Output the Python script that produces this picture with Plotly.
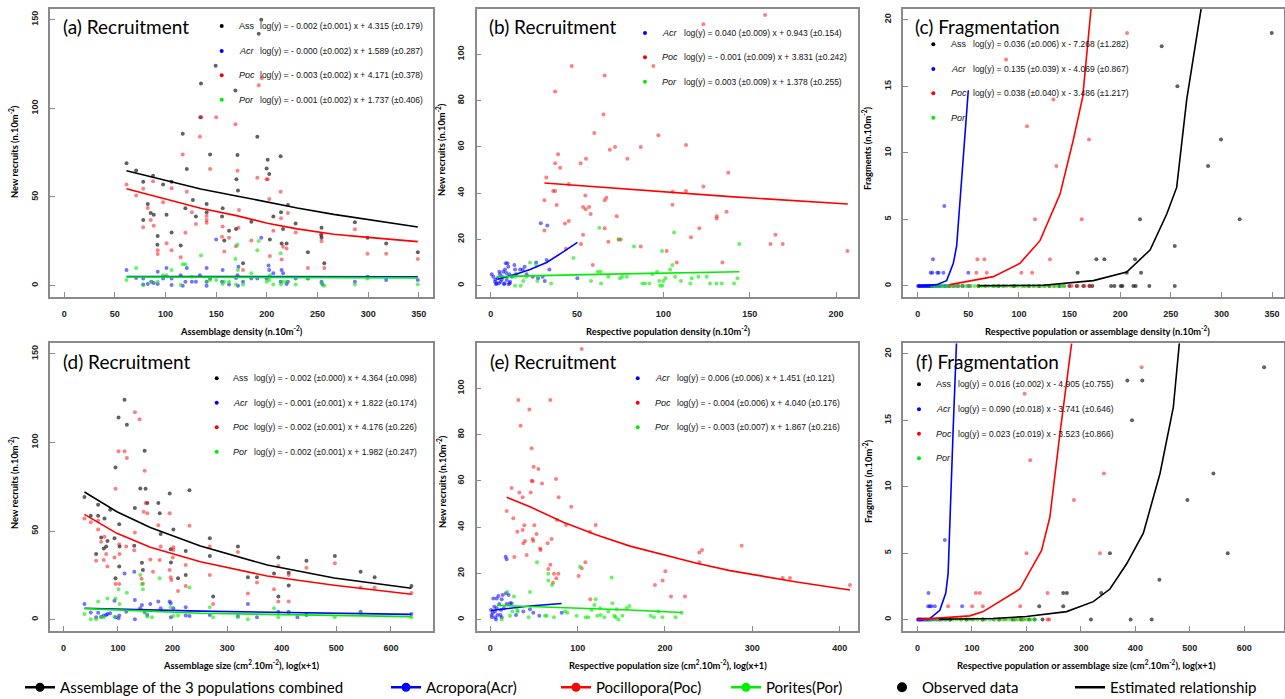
import plotly.graph_objects as go

W, H = 1285, 704   # a few px taller than the window so the bottom legend sits at the right height

# ======================= DATA =======================
# Panel (a): recruitment vs assemblage density
a_ass = [(61.5,69),(71,65),(78,58.6),(78,37),(82.5,46),(85.4,41),(87.7,62),(88.4,40),(92.3,28),(92,23),
         (97.6,57),(101,40),(106,58.6),(106,30),(115,22.6),(117,85.7),(119.6,43.6),(121,65.8),(127,48.3),
         (130,39),(135,114),(134.4,95),(140.6,46),(140.6,41.4),(144,74),(149.5,124),(156.4,43.6),(155.8,39),
         (158,25.4),(162.7,31),(169,110),(171,73.7),(170,60),(171.5,53.6),(169.6,32),(176.5,12.6),(184.7,36),
         (190.6,84),(192,142),(194.5,150),(199.8,66),(200.8,71),(202.4,63),(203,26),(206.4,39),(213.6,73),
         (214,41.4),(216,32),(214.6,23.7),(219.5,23.7),(220.8,45.5),(228.4,35),(240.5,18.8),(254,32.7),
         (253.7,28.6),(254,27),(256.7,12.6),(286.9,35.7),(299.4,27),(317.8,23.7),(349,18.8)]
a_poc = [(61.5,57),(71,50.8),(78,54.7),(78,33),(82.5,43.8),(85.4,37),(87.7,58.8),(88.4,33.8),(92.3,20),
         (92.3,17.9),(97.6,47),(101,23.9),(106,54.9),(106,19.9),(115,16),(117,73.9),(119.6,29.9),(121,53),
         (126,41.4),(130,34.8),(134,84),(135.4,95),(140.6,39.3),(140.6,37),(140.6,35.5),(144,65.8),(150,95),
         (156.4,33.3),(155.8,27.6),(158,19.2),(162.7,27),(169,91),(171,64.8),(172.5,42.7),(169.6,22.2),
         (172,32.7),(176.5,8.8),(184.7,25.4),(190.6,60.9),(192,113),(195,117),(199.8,60),(200.8,60),
         (202.4,48.9),(203,16.7),(206.4,31),(213.6,53),(214,38),(216,22),(214.6,14.8),(219.5,20.9),
         (220.8,41),(228.4,30),(240.5,10),(254,25),(253.7,29),(256.7,10),(286.9,31.8),(299.4,18),
         (317.8,18),(349,15)]
a_acr = [(61.5,8.8),(71,4.3),(78,4),(78,0.7),(82.5,1),(86,2.2),(88.4,1.5),(92.3,7.9),(92.3,1),(97.6,4),
         (101,10),(106,4),(106,0.4),(115,5.8),(117,0),(121,10),(119.6,2.2),(126,2.2),(130,2.2),(134,5.8),
         (140.6,10),(140.6,0),(140.6,2.2),(144,4),(150,26),(156.4,8.8),(155.8,2.2),(162.7,0.7),(169.6,4.3),
         (171,5.8),(172,10.7),(171.5,0),(176.5,2.2),(184.7,4),(190.6,4),(194.5,27),(199.8,4),(201.7,11.3),
         (202.4,8.8),(206.4,7),(213.6,2.2),(214.6,8.8),(216,7),(219.5,1),(220.8,2.2),(228.4,4),(240.5,4),
         (254,2.2),(255,0.7),(286.9,2.2),(299.4,5),(317.8,3.2),(349,3.2)]
a_por = [(61.5,3.2),(71,10),(78,0.4),(86,2.2),(92.3,2.2),(97.6,5.8),(101,5.8),(106,8.8),(115,0.4),(117,12),
         (119.6,12),(126,5),(135,17),(140.6,2.2),(144,3.2),(150,3.2),(156.4,1),(158,2.2),(162.7,2.2),(169,15),
         (171,23),(171.5,8.8),(169.6,0.7),(176.5,0.7),(184.7,7),(190.6,20),(192,25.2),(199.8,2.2),(202.4,3.2),
         (203,5.8),(206.4,0.7),(213.6,18.2),(214,0.7),(216,2.2),(219.5,2.2),(228.4,0.7),(240.5,4),(254,1.3),
         (256.7,0),(286.9,0.7),(299.4,4),(349,0.7)]
a_line_x = [61.5, 100, 134.7, 170, 200.5, 230, 266, 300, 349]
a_ass_line = [64.8, 59.6, 54.5, 50.6, 47.0, 43.8, 40.2, 37.2, 33.1]
a_poc_line = [54.7, 49.0, 43.6, 39.5, 35.2, 32.0, 29.0, 27.2, 24.8]
a_flat_x = [61.5, 349]
a_acr_line = [5.2, 5.0]
a_por_line = [4.9, 4.4]

# Panel (b): recruitment vs respective population density
b_poc = [(158.9,117),(123.2,113),(46.9,95),(94.2,95),(66,90.9),(37.3,83.9),(65.3,74),(60,66),(97.1,65),
         (113.1,60.8),(39,56.8),(72,59.9),(69,58.8),(86.9,59.9),(37.3,52.9),(40.2,51),(52.1,52.9),(55.2,54.9),
         (79.2,54.9),(32.2,46.8),(45.2,44),(137.6,48.8),(31.1,36.9),(36.2,40.9),(37.3,40.9),(38.2,34.9),
         (54.8,39),(53.5,34),(55,33),(57,34),(57.9,31),(67,38),(66,36.9),(105.2,35),(105.4,40.6),(113.1,40.9),
         (123.2,42.9),(130.9,30),(130.9,29),(136.6,32),(73,30),(31.1,23.9),(43,26.9),(45.2,28),(66,24.8),
         (68.1,19),(75.3,20),(74.1,20),(120.8,24.8),(116,20.9),(101.9,15),(86.9,16.9),(52.3,18),(53.5,22),
         (43.6,16),(59.1,8.9),(162,18),(164.9,22),(169.1,18),(206.6,15),(107.7,10),(134.2,10)]
b_acr = [(29,27),(32.8,26),(0.6,4.9),(1.5,3.9),(2.5,1.7),(3.1,0.6),(4,3.2),(4.8,1),(5.4,4.9),(5.8,1.7),
         (6.6,3.9),(7.3,6),(7.7,0.6),(8.3,7),(8.7,9.7),(9.3,2.4),(9.7,9.7),(10.2,8.2),(10.4,0.6),(11.2,1.7),
         (10.8,4.9),(12.2,3.9),(13.7,8.9),(14.1,7),(14.7,4.9),(17,7),(18.5,7),(19.7,8.2),(20.8,4.9),(24.3,3.9),
         (26.3,10),(27.4,3.2),(30.1,3.9),(32.4,11.1),(34,7),(31.3,2),(50.2,3.2),(2.7,2.7),(6.4,2.7),(3.5,1),
         (8,1),(11,1),(9,5.5),(5,6)]
b_por = [(22.8,10),(26.3,8.9),(47.9,12),(62.9,25),(74.3,20),(83,16.9),(99.2,15),(106.2,23),(105.2,8.9),
         (62,6),(63.7,6),(144,18),(96.3,6),(14.1,0),(17.4,0),(14.1,3.9),(27,2),(35,0.9),(58.1,2),(63.9,0.9),
         (68.1,3.9),(74.9,3.2),(76.3,3.9),(78.8,3.9),(87.8,0.9),(89.4,0.9),(91.9,0.9),(93.6,4.9),(97.7,2),
         (98.1,0),(99.4,0),(100,2),(101.2,3.2),(103.9,7),(106.8,3.9),(110.2,2),(115.6,0.9),(116.4,3.2),
         (120.3,3.9),(125.1,3.9),(127,0.9),(130.7,0.9),(133.8,0.9),(140.9,0.9),(142.9,3.2),(9.7,3.9),
         (18.9,2),(20.8,3.9)]
b_poc_line_x = [31.1, 80.7, 138.6, 206.8]
b_poc_line = [44.4, 41.8, 38.5, 35.3]
b_acr_line_x = [4, 15, 22.8, 32.4, 42, 50.2]
b_acr_line = [2.8, 5.0, 7.0, 10.0, 14.6, 18.7]
b_por_line_x = [3.5, 61.4, 144]
b_por_line = [3.9, 4.9, 6.0]

# Panel (c): fragmentation vs density
c_ass = [(349.7,19),(241,18),(256.5,15),(299.6,11),(286.8,9),(318,5),(219.6,5),(253.9,3),(176.5,2),
         (184.4,2),(214.7,2),(158,1),(206.5,1),(220.6,1),(149.8,0),(157,0),(163.6,0),(169.6,0),(172.5,0),
         (191,0),(194.3,0),(200.5,0),(202.2,0),(213,0),(215.3,0),(228.8,0),(253.9,0),(60,0),(80,0),(95,0),
         (110,0),(120,0),(130,0),(140,0)]
c_poc = [(206.8,19),(87.3,17),(134,14),(108,12),(169.2,11),(137,9),(115.9,5),(162,5),(59,2),(65.9,2),
         (130.7,2),(58,1),(68.2,1),(102.4,1),(113,1),(31,0),(38,0),(45,0),(52,0),(60,0),(67,0),(75,0),(85,0),
         (95,0),(105,0),(115,0),(125,0),(135,0),(145,0),(152,0),(158,0),(165,0),(170,0)]
c_acr = [(26.3,6),(15.1,2),(12.8,1),(14.5,1),(19.4,1),(20.7,1),(25.4,1),(50,1),(0.5,0),(1,0),(2,0),(3,0),
         (4,0),(5,0),(6,0),(7,0),(8,0),(9,0),(10,0),(11,0),(12,0),(13,0),(14,0),(15,0),(17,0),(19,0),(21,0),
         (23,0),(26,0),(28,0),(31,0),(35,0),(40,0),(44,0),(50,0)]
c_por = [(14,0),(17,0),(20,0),(23,0),(26,0),(29,0),(33,0),(36,0),(40,0),(44,0),(48,0),(52,0),(56,0),(60,0),
         (63,0),(66,0),(70,0),(74,0),(77,0),(80,0),(84,0),(88,0),(92,0),(96,0),(99,0),(103,0),(107,0),(110,0),
         (114,0),(118,0),(122,0),(126,0),(130,0),(134,0),(138,0),(142,0),(144,0)]
c_acr_line_x = [0, 18.8, 28.6, 35.2, 38.5, 41.8, 45.1, 50]
c_acr_line = [0, 0.1, 0.4, 1.7, 3.0, 6.4, 9.7, 14.7]
c_poc_line_x = [31.9, 74.7, 101, 120.8, 140.6, 153.8, 163, 171.2]
c_poc_line = [0.1, 0.7, 1.7, 3.4, 6.9, 11.0, 14.2, 20.8]
c_ass_line_x = [60, 124, 173.5, 206.5, 229.5, 246, 255.8, 265.7, 279.9]
c_ass_line = [0.01, 0.05, 0.4, 1.05, 2.7, 5.4, 7.4, 14.0, 20.8]

# Panel (d): recruitment vs assemblage size
d_ass = [(38.6,69.2),(50.2,58.6),(60,37),(63.7,64.8),(63.7,58.6),(69.2,46.4),(74,40.2),(75.3,57),(78.4,41.2),
         (80.8,44.4),(85.7,62),(93.7,45.9),(95.5,85.9),(95.5,23.3),(101,114),(102.3,53.8),(102.3,30),
         (102.9,41.2),(112,124),(116.3,110),(129.8,41.7),(131,63),(140.8,74),(143.9,32.1),(145.7,28),
         (148.8,95.3),(150.6,73.9),(153.7,65.8),(173.9,65.8),(176.4,60),(178.2,48.3),(194.7,71.2),(196.6,39.7),
         (201.5,50.8),(197,32.3),(210,23.3),(224.1,38.7),(224.1,25.2),(230.9,73),(268.2,45.9),(268.2,35.9),
         (274.3,13),(319.7,41.2),(338,23.9),(354.6,23.9),(385.8,26.1),(393.8,35),(393.8,13),(412.7,19.2),
         (412.7,26.5),(445.2,33.3),(497.2,35.9),(544.4,27),(570.1,23.9),(637.5,19)]
d_poc = [(38.6,57),(50.2,54.9),(60,33.3),(63.7,55.8),(63.7,50.8),(69.2,44),(74,33.6),(75.3,46.8),(78.4,37),
         (80.8,30),(93.7,35),(95.5,73.9),(95.5,20.1),(101,95),(102.3,42.5),(102.3,20.1),(102.9,37),(112,95),
         (116.3,91.2),(115.1,41.2),(129.8,39.1),(131,49.2),(131,117),(139.6,113),(143.3,23.1),(145.7,20.3),
         (148.8,84),(150.6,65.8),(153.7,60),(147,60.9),(159.2,34),(164.1,27),(173.9,53.2),(176.4,33.6),
         (178.2,41.2),(194.7,60),(194.7,28),(196.6,23.9),(197.8,22.4),(200.3,35),(201.5,40.8),(201.5,39.3),
         (210,16.2),(224.1,19),(224.1,30.8),(230.9,53),(268.2,41.2),(268.2,25.2),(274.3,8.8),(319.7,38.2),
         (338,14.8),(354.6,21),(385.8,17.1),(393.8,30.3),(393.8,10.2),(412.7,10.2),(412.7,25.2),(445.2,29.3),
         (497.2,31.8),(544.4,18.2),(570.1,18.2),(637.5,15)]
d_acr = [(38.6,8.8),(50.2,4.1),(60,1.3),(63.7,3.9),(69.2,1.7),(74,2.3),(78.4,2.6),(80.8,3.2),(85.7,3.6),
         (93.7,10.7),(95.5,1.3),(101,0.8),(102.3,2.3),(112,26.1),(115.1,4.5),(129.8,27),(131,11.1),(131,0.2),
         (140.8,6.4),(143.9,8.3),(148.8,4.5),(153.7,2.6),(159.2,8.8),(173.9,10.2),(178.2,6.4),(194.7,10.2),
         (196.6,9.2),(197,1.3),(201.5,6.4),(224.1,7),(224.1,2.3),(230.9,2.1),(268.2,2.6),(319.7,2.1),(338,8.8),
         (354.6,1.3),(393.8,4.5),(412.7,4.5),(428.7,1.3),(445.2,2.6),(544.4,4.5),(637.5,3.2)]
d_por = [(38.6,3.2),(50.2,0.2),(63.7,10.2),(69.2,1.3),(80.8,12),(95.5,12),(101,17.1),(102.9,8.8),(116.3,15.2),
         (140.8,25.2),(143.9,20.1),(145.7,17.1),(148.8,3.9),(153.7,1.7),(162.3,1.3),(176.4,23.3),(196.6,7),
         (201.5,2.1),(210,2.3),(230.9,18.2),(268.2,7),(274.3,1.3),(319.7,1.3),(338,0.2),(385.8,6.4),
         (393.8,1.3),(412.7,3.9),(445.2,2.6),(497.2,1.3),(544.4,3.9),(637.5,1.3),(60,0.2),(74,1.3),(93.7,1.7)]
d_line_x = [38.6, 98, 159.2, 251, 373.5, 496, 637.5]
d_ass_line = [72.0, 60.9, 52.0, 41.5, 30.8, 23.5, 17.7]
d_poc_line = [59.4, 48.7, 40.8, 32.7, 24.6, 19.4, 14.3]
d_flat_x = [38.6, 251, 637.5]
d_acr_line = [6.4, 4.8, 3.0]
d_por_line = [6.2, 3.6, 1.7]

# Panel (e): recruitment vs respective population size
e_poc = [(104.6,117),(32.1,95),(68.7,95),(44.7,90.9),(34.7,83.9),(47.3,74.1),(49.6,66.1),(55,65.1),
         (47.3,60.1),(48.5,59.8),(59.2,58.9),(75.2,60.8),(24.4,56.9),(33.2,55),(37,52.9),(46.2,55),(78.2,52.9),
         (92.7,48.8),(18.7,47),(26.3,43.8),(38.9,40.8),(50.4,40.8),(76.3,43.1),(86.6,40.9),(120.6,40.9),
         (114.1,38),(37,38.8),(39.7,34),(37.8,33),(48.5,34.9),(49.2,34),(53,37),(56.9,30.8),(57.6,30.1),
         (65.6,33),(70.2,34.9),(30.9,38),(27.5,27.1),(41.6,28),(66.4,21.9),(68.7,23.8),(72.9,19.9),(77.9,19.9),
         (71.8,16),(75.6,17.9),(101.1,18.9),(104.6,22.2),(108.8,24.8),(114.5,8.8),(188.5,15),(197.3,16.9),
         (200.4,20.9),(206.9,10),(222.9,10),(239.3,29),(242.4,30.1),(239.3,24.8),(287.8,32),(334.7,18),
         (343.1,18),(411.8,15)]
e_acr = [(17.6,27.2),(18.7,26.1),(0.8,4.2),(1.9,1),(2.7,3),(3.4,9.2),(4.6,5.6),(5.7,1),(7.3,4.9),(7.3,9.2),
         (8.4,2),(9.2,10.2),(10.3,6.8),(11.5,2),(13,8.8),(14.1,10.7),(15.6,4.9),(17.9,11.4),(18.7,6.8),
         (21,10.7),(22.5,7.1),(24.4,7.1),(29.4,2),(37.8,3.5),(45.4,4.5),(49.2,3),(56.1,1.7),(81.7,3),(1.5,2),
         (5.3,3.5),(6.5,0.1),(12.2,4.2),(13,1)]
e_por = [(19.5,12),(27.1,10),(45.4,12),(53.4,24.8),(66.4,16.9),(66.4,19.9),(70.6,15),(102.7,22.9),(138.9,18.2),
         (139.7,7.1),(13,0.1),(22.5,1.7),(25.2,3.5),(31.3,3.5),(43.9,1),(62.6,1.7),(72.9,1),(85.5,3.5),(88.2,3),
         (98.9,1.7),(109.2,1),(112.2,1),(119.1,6.3),(120.6,8.8),(122.5,1.7),(126.3,2),(130.5,1),(135.1,3.5),
         (142,1.7),(143.5,1),(146.6,0.1),(151.1,1.7),(156.1,4.9),(159.2,5.9),(183.6,1.7),(187.4,1),(192.7,3.5),
         (197,1),(212.2,1),(219.1,3),(116,4.2),(125.6,4.9),(144.7,4.5),(64.5,1.7),(30.9,4.2)]
e_poc_line_x = [18.7, 45.4, 83.6, 121.8, 160, 198.1, 236.3, 274.4, 312.6, 350.8, 411.8]
e_poc_line = [52.9, 48.8, 42.1, 36.6, 31.8, 28.0, 24.4, 21.2, 18.6, 16.3, 12.8]
e_acr_line_x = [0.8, 26.3, 45.4, 81.7]
e_acr_line = [4.0, 5.0, 5.9, 7.0]
e_por_line_x = [7.3, 83.6, 160, 219.1]
e_por_line = [6.2, 5.2, 4.2, 3.1]

# Panel (f): fragmentation vs size
f_ass = [(636.3,19),(385.2,18),(412.7,18),(393.8,15),(543.2,11),(495.4,9),(569.5,5),(353.3,5),(444,3),
         (267.6,2),(274.3,2),(337.4,2),(223.5,1),(267.6,1),(229.6,0),(318.4,0),(391.3,0),(429.9,0),(60,0),
         (90,0),(120,0),(150,0),(175,0),(190,0),(205,0),(215,0)]
f_poc = [(411.5,19),(196.6,17),(207,12),(342.3,11),(287.2,9),(200.2,5),(335,5),(107.2,2),(114.5,2),(238.8,2),
         (56.3,1),(100.4,1),(120,1),(188.6,1),(238.8,0),(241.9,0),(40,0),(60,0),(80,0),(100,0),(120,0),(140,0),
         (160,0),(180,0),(195,0)]
f_acr = [(50.2,6),(20.2,2),(19.6,1),(22.7,1),(25.7,1),(31.8,1),(82.1,1),(1,0),(2,0),(3,0),(5,0),(6,0),(8,0),
         (10,0),(12,0),(14,0),(16,0),(18,0),(20,0),(23,0),(26,0),(30,0),(35,0),(40,0),(45,0),(52,0),(60,0)]
f_por = [(15,0),(22,0),(28,0),(35,0),(42,0),(50,0),(57,0),(65,0),(72,0),(80,0),(88,0),(95,0),(103,0),(110,0),
         (118,0),(125,0),(133,0),(140,0),(148,0),(155,0),(163,0),(170,0),(178,0),(185,0),(193,0),(200,0),
         (208,0),(215,0)]
f_acr_line_x = [0, 22.7, 41, 52, 56.3, 59.4, 65.5, 71.6]
f_acr_line = [0, 0.08, 0.7, 2.0, 3.5, 6.7, 14.3, 20.8]
f_poc_line_x = [0, 96, 120.6, 188, 227.8, 243, 261.5, 283]
f_poc_line = [0, 0.28, 0.6, 2.3, 5.2, 7.7, 14.0, 20.8]
f_ass_line_x = [40, 139, 200, 273.7, 322.7, 353.3, 384, 414.6, 445.2, 469.7, 480.7]
f_ass_line = [0.03, 0.08, 0.23, 0.6, 1.35, 2.3, 4.2, 6.5, 11.0, 16.0, 20.8]

# Tick values
ticks_350 = [0, 50, 100, 150, 200, 250, 300, 350]
ticks_200 = [0, 50, 100, 150, 200]
ticks_600 = [0, 100, 200, 300, 400, 500, 600]
ticks_400 = [0, 100, 200, 300, 400]
yt_150 = [0, 50, 100, 150]
yt_100 = [0, 20, 40, 60, 80, 100]
yt_20 = [0, 5, 10, 15, 20]

# Legend equations (text)
eq_a = [("Ass", "log(y) = - 0.002 (±0.001) x + 4.315 (±0.179)"),
        ("Acr", "log(y) = - 0.000 (±0.002) x + 1.589 (±0.287)"),
        ("Poc", "log(y) = - 0.003 (±0.002) x + 4.171 (±0.378)"),
        ("Por", "log(y) = - 0.001 (±0.002) x + 1.737 (±0.406)")]
eq_b = [("Acr", "log(y) = 0.040 (±0.009) x + 0.943 (±0.154)"),
        ("Poc", "log(y) = - 0.001 (±0.009) x + 3.831 (±0.242)"),
        ("Por", "log(y) = 0.003 (±0.009) x + 1.378 (±0.255)")]
eq_c = [("Ass", "log(y) = 0.036 (±0.006) x - 7.268 (±1.282)"),
        ("Acr", "log(y) = 0.135 (±0.039) x - 4.069 (±0.867)"),
        ("Poc", "log(y) = 0.038 (±0.040) x - 3.486 (±1.217)"),
        ("Por", "")]
eq_d = [("Ass", "log(y) = - 0.002 (±0.000) x + 4.364 (±0.098)"),
        ("Acr", "log(y) = - 0.001 (±0.001) x + 1.822 (±0.174)"),
        ("Poc", "log(y) = - 0.002 (±0.001) x + 4.176 (±0.226)"),
        ("Por", "log(y) = - 0.002 (±0.001) x + 1.982 (±0.247)")]
eq_e = [("Acr", "log(y) = 0.006 (±0.006) x + 1.451 (±0.121)"),
        ("Poc", "log(y) = - 0.004 (±0.006) x + 4.040 (±0.176)"),
        ("Por", "log(y) = - 0.003 (±0.007) x + 1.867 (±0.216)")]
eq_f = [("Ass", "log(y) = 0.016 (±0.002) x - 4.905 (±0.755)"),
        ("Acr", "log(y) = 0.090 (±0.018) x - 3.741 (±0.646)"),
        ("Poc", "log(y) = 0.023 (±0.019) x - 3.523 (±0.866)"),
        ("Por", "")]

# ======================= STYLE / LAYOUT =======================
LINE = dict(ass='#000000', acr='#0000ff', poc='#ff0000', por='#00ee00')
PT = dict(ass='rgba(0,0,0,0.62)', acr='rgba(0,0,255,0.55)', poc='rgba(255,0,0,0.5)', por='rgba(0,235,0,0.6)')
DOT = dict(Ass='#000000', Acr='#0000ff', Poc='#ff0000', Por='#00ee00')

ytitle_rec = "New recruits (n.10m<sup>-2</sup>)"
ytitle_frag = "Fragments (n.10m<sup>-2</sup>)"

panels = [
    dict(title="(a) Recruitment", dx=(50, 433), dy=(9, 297), xr=(-14, 364), yr=(-6.4, 156),
         xt=ticks_350, yt=yt_150,
         pts=[('ass', a_ass), ('acr', a_acr), ('poc', a_poc), ('por', a_por)],
         lines=[('ass', a_line_x, a_ass_line), ('poc', a_line_x, a_poc_line),
                ('acr', a_flat_x, a_acr_line), ('por', a_flat_x, a_por_line)],
         tpos=(61, 26.7), leg=(221.7, 236.7, 258.3, [26, 51, 75.3, 99.7]), eq=eq_a,
         xlab=("Assemblage density (n.10m<sup>-2</sup>)", 241, 331), ylab=(ytitle_rec, 14, 152)),
    dict(title="(b) Recruitment", dx=(476.7, 858), dy=(9, 297), xr=(-8.1, 212.7), yr=(-4.9, 119.6),
         xt=ticks_200, yt=yt_100,
         pts=[('acr', b_acr), ('poc', b_poc), ('por', b_por)],
         lines=[('poc', b_poc_line_x, b_poc_line), ('acr', b_acr_line_x, b_acr_line),
                ('por', b_por_line_x, b_por_line)],
         tpos=(486.7, 26.7), leg=(645, 660, 681.7, [33, 57.3, 81.7]), eq=eq_b,
         xlab=("Respective population density (n.10m<sup>-2</sup>)", 668, 331), ylab=(ytitle_rec, 441, 150)),
    dict(title="(c) Fragmentation", dx=(903.3, 1284), dy=(9, 297), xr=(-14.2, 361.8), yr=(-0.83, 20.8),
         xt=ticks_350, yt=yt_20,
         pts=[('ass', c_ass), ('acr', c_acr), ('poc', c_poc), ('por', c_por)],
         lines=[('acr', c_acr_line_x, c_acr_line), ('poc', c_poc_line_x, c_poc_line),
                ('ass', c_ass_line_x, c_ass_line)],
         tpos=(913.3, 26.7), leg=(933.3, 949, 970.7, [44.3, 69, 93.3, 117.7]), eq=eq_c,
         xlab=("Respective population or assemblage density (n.10m<sup>-2</sup>)", 1097, 331),
         ylab=(ytitle_frag, 867, 149)),
    dict(title="(d) Recruitment", dx=(50, 433), dy=(343.3, 631), xr=(-24.5, 677), yr=(-6.4, 155.9),
         xt=ticks_600, yt=yt_150,
         pts=[('ass', d_ass), ('acr', d_acr), ('poc', d_poc), ('por', d_por)],
         lines=[('ass', d_line_x, d_ass_line), ('poc', d_line_x, d_poc_line),
                ('acr', d_flat_x, d_acr_line), ('por', d_flat_x, d_por_line)],
         tpos=(61, 361), leg=(216.7, 231, 252.3, [378.3, 402.7, 427.3, 451.7]), eq=eq_d,
         xlab=("Assemblage size (cm<sup>2</sup>.10m<sup>-2</sup>), log(x+1)", 241, 665), ylab=(ytitle_rec, 14, 483)),
    dict(title="(e) Recruitment", dx=(476.7, 858), dy=(343.3, 631), xr=(-15.6, 421), yr=(-4.9, 119.5),
         xt=ticks_400, yt=yt_100,
         pts=[('acr', e_acr), ('poc', e_poc), ('por', e_por)],
         lines=[('poc', e_poc_line_x, e_poc_line), ('acr', e_acr_line_x, e_acr_line),
                ('por', e_por_line_x, e_por_line)],
         tpos=(487.7, 361), leg=(637.7, 652.7, 675, [378.3, 402.7, 427.3]), eq=eq_e,
         xlab=("Respective population size (cm<sup>2</sup>.10m<sup>-2</sup>), log(x+1)", 668, 665),
         ylab=(ytitle_rec, 442, 482)),
    dict(title="(f) Fragmentation", dx=(903.3, 1284), dy=(343.3, 631), xr=(-26, 672.8), yr=(-0.86, 20.8),
         xt=ticks_600, yt=yt_20,
         pts=[('ass', f_ass), ('acr', f_acr), ('poc', f_poc), ('por', f_por)],
         lines=[('acr', f_acr_line_x, f_acr_line), ('poc', f_poc_line_x, f_poc_line),
                ('ass', f_ass_line_x, f_ass_line)],
         tpos=(914.3, 361), leg=(919, 934, 956, [384.3, 409.3, 433.7, 458.3]), eq=eq_f,
         xlab=("Respective population or assemblage size (cm<sup>2</sup>.10m<sup>-2</sup>), log(x+1)", 1086, 665),
         ylab=(ytitle_frag, 868, 482)),
]


def px(x):
    return x / W


def py(y):
    return 1 - y / H


fig = go.Figure()
layout = dict(width=W, height=H, margin=dict(l=0, r=0, t=0, b=0), paper_bgcolor='white',
              plot_bgcolor='white', showlegend=True)
annotations = []
shapes = []

TICKFONT = dict(family="Liberation Sans", size=9, color="#222", weight='bold')
AXLINE = '#8a8a8a'
AXTITLE = dict(family="Lato", size=9.3, color='black', weight='bold')

for i, p in enumerate(panels, start=1):
    xa = 'xaxis' if i == 1 else f'xaxis{i}'
    ya = 'yaxis' if i == 1 else f'yaxis{i}'
    xr_ = 'x' if i == 1 else f'x{i}'
    yr_ = 'y' if i == 1 else f'y{i}'
    common = dict(showline=True, mirror=True, linecolor=AXLINE, linewidth=1.5, ticks='inside',
                  ticklen=5, tickwidth=1.2, tickcolor=AXLINE, showgrid=False, zeroline=False,
                  tickfont=TICKFONT, ticklabelstandoff=7)
    layout[xa] = dict(domain=[px(p['dx'][0]), px(p['dx'][1])], range=list(p['xr']), anchor=yr_,
                      tickmode='array', tickvals=p['xt'], **common)
    layout[ya] = dict(domain=[py(p['dy'][1]), py(p['dy'][0])], range=list(p['yr']), anchor=xr_,
                      tickmode='array', tickvals=p['yt'], tickangle=-90, **common)

    for key, pts in p['pts']:
        fig.add_trace(go.Scatter(x=[q[0] for q in pts], y=[q[1] for q in pts], mode='markers',
                                 marker=dict(size=4, color=PT[key], line=dict(width=0)),
                                 xaxis=xr_, yaxis=yr_, showlegend=False, hoverinfo='skip'))
    for key, lx, ly in p['lines']:
        fig.add_trace(go.Scatter(x=lx, y=ly, mode='lines', line=dict(color=LINE[key], width=1.6),
                                 xaxis=xr_, yaxis=yr_, showlegend=False, hoverinfo='skip'))

    # panel title
    annotations.append(dict(text=p['title'], x=px(p['tpos'][0]), y=py(p['tpos'][1]), xref='paper',
                            yref='paper', xanchor='left', yanchor='middle', showarrow=False,
                            font=dict(family="Lato", size=19, color='black')))
    # inner legend
    dx_, lx_, ex_, ys = p['leg']
    for (lab, eq), yy in zip(p['eq'], ys):
        shapes.append(dict(type='circle', xref='paper', yref='paper',
                           x0=px(dx_ - 2), x1=px(dx_ + 2), y0=py(yy + 2), y1=py(yy - 2),
                           fillcolor=DOT[lab], line=dict(width=0)))
        labtxt = lab if lab == "Ass" else f"<i>{lab}</i>"
        annotations.append(dict(text=labtxt, x=px(lx_), y=py(yy), xref='paper', yref='paper',
                                xanchor='left', yanchor='middle', showarrow=False,
                                font=dict(family="Liberation Sans", size=9, color='#111')))
        if eq:
            annotations.append(dict(text=eq, x=px(ex_), y=py(yy), xref='paper', yref='paper',
                                    xanchor='left', yanchor='middle', showarrow=False,
                                    font=dict(family="Liberation Sans", size=8.5, color='#111')))
    # axis titles
    t, xx, yy = p['xlab']
    annotations.append(dict(text=t, x=px(xx), y=py(yy), xref='paper', yref='paper', xanchor='center',
                            yanchor='middle', showarrow=False, font=AXTITLE))
    t, xx, yy = p['ylab']
    annotations.append(dict(text=t, x=px(xx), y=py(yy), xref='paper', yref='paper', xanchor='center',
                            yanchor='middle', showarrow=False, textangle=-90, font=AXTITLE))

# bottom legend: separate legends per item
bottom_items = [
    ("Assemblage of the 3 populations combined", 'lines+markers', '#000000', 20),
    ("Acropora(Acr)", 'lines+markers', '#0000ff', 386),
    ("Pocillopora(Poc)", 'lines+markers', '#ff0000', 556),
    ("Porites(Por)", 'lines+markers', '#00ee00', 726),
    ("Observed data", 'markers', '#000000', 882),
    ("Estimated relationship", 'lines', '#000000', 1070),
]
for j, (name, mode, col, xpos) in enumerate(bottom_items, start=1):
    lg = 'legend' if j == 1 else f'legend{j}'
    fig.add_trace(go.Scatter(x=[None], y=[None], mode=mode, name=name, legend=lg,
                             line=dict(color=col, width=2.5),
                             marker=dict(color=col, size=9 if mode != 'markers' else 10),
                             showlegend=True, hoverinfo='skip'))
    layout[lg] = dict(x=px(xpos), y=0, xanchor='left', yanchor='bottom', orientation='h',
                      bgcolor='rgba(0,0,0,0)', borderwidth=0,
                      font=dict(family="Lato", size=15, color='black'))

layout['annotations'] = annotations
layout['shapes'] = shapes
fig.update_layout(**layout)
fig.write_html("out.html", config={'displayModeBar': False},
               post_script="document.body.style.margin='0';document.body.style.overflow='hidden';")
